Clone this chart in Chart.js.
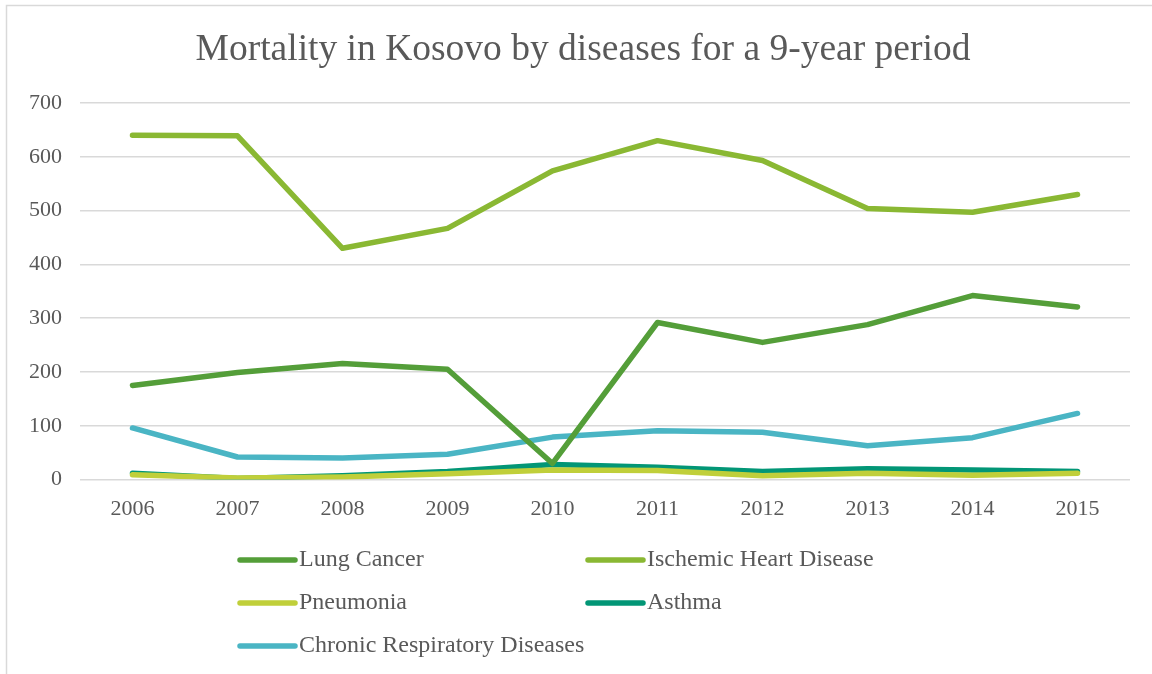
<!DOCTYPE html>
<html>
<head>
<meta charset="utf-8">
<script src="https://cdn.jsdelivr.net/npm/chart.js@4/dist/chart.umd.min.js"></script>
<style>
  html, body { margin: 0; padding: 0; background: #ffffff; }
  #wrap { position: relative; width: 1152px; height: 674px; }
</style>
</head>
<body>
<div id="wrap"><canvas id="chart" width="1152" height="674"></canvas></div>
<script>
// Years on the horizontal axis
const years = ['2006', '2007', '2008', '2009', '2010', '2011', '2012', '2013', '2014', '2015'];

// Deaths per year for each disease
const lungCancer = [175, 199, 216, 205, 30, 292, 255, 288, 342, 321];
const ischemicHeart = [640, 639, 430, 467, 574, 630, 593, 504, 497, 530];
const pneumonia = [9, 3, 5, 11, 18, 17, 7, 12, 8, 12];
const asthma = [12, 2, 7, 15, 28, 23, 15, 20, 18, 15];
const chronicRespiratory = [96, 42, 40, 47, 79, 91, 88, 63, 78, 123];

const seriesNames = ['Lung Cancer', 'Ischemic Heart Disease', 'Pneumonia', 'Asthma', 'Chronic Respiratory Diseases'];
const seriesValues = [lungCancer, ischemicHeart, pneumonia, asthma, chronicRespiratory];
const seriesColors = ['#549E39', '#8AB833', '#C0CF3A', '#029676', '#4AB5C4'];

const FONT = '"Liberation Serif", "Times New Roman", serif';
const TEXT = '#595959';

// Outer frame of the chart (left and top edges)
const framePlugin = {
  id: 'frame',
  beforeDraw(chart) {
    const ctx = chart.ctx;
    ctx.save();
    ctx.fillStyle = '#ffffff';
    ctx.fillRect(0, 0, chart.width, chart.height);
    ctx.strokeStyle = '#d9d9d9';
    ctx.lineWidth = 1.5;
    ctx.beginPath();
    ctx.moveTo(6.5, chart.height + 2);
    ctx.lineTo(6.5, 5.5);
    ctx.lineTo(chart.width + 2, 5.5);
    ctx.stroke();
    ctx.restore();
  }
};

// Two-column legend below the axis
const gridLegendPlugin = {
  id: 'gridLegend',
  afterDraw(chart, args, opts) {
    const ctx = chart.ctx;
    ctx.save();
    ctx.font = opts.font;
    ctx.textBaseline = 'middle';
    ctx.textAlign = 'left';
    chart.data.datasets.forEach((ds, i) => {
      const col = i % 2;
      const row = Math.floor(i / 2);
      const x = opts.columns[col];
      const y = opts.top + row * opts.rowGap;
      ctx.strokeStyle = ds.borderColor;
      ctx.lineWidth = 5.5;
      ctx.lineCap = 'round';
      ctx.beginPath();
      ctx.moveTo(x, y);
      ctx.lineTo(x + opts.swatch, y);
      ctx.stroke();
      ctx.fillStyle = TEXT;
      ctx.fillText(ds.label, x + opts.swatch + 4, y);
    });
    ctx.restore();
  }
};

new Chart(document.getElementById('chart'), {
  type: 'line',
  data: {
    labels: years,
    datasets: seriesNames.map((name, i) => ({
      label: name,
      data: seriesValues[i],
      yAxisID: 'y',
      borderColor: seriesColors[i],
      backgroundColor: seriesColors[i],
      borderWidth: 5.5,
      pointRadius: 0,
      pointHoverRadius: 0,
      tension: 0,
      borderCapStyle: 'round',
      borderJoinStyle: 'round',
      fill: false
    }))
  },
  plugins: [framePlugin, gridLegendPlugin],
  options: {
    responsive: false,
    animation: false,
    layout: { padding: { left: 14, right: 0, top: 0, bottom: 136 } },
    plugins: {
      legend: { display: false },
      tooltip: { enabled: false },
      title: {
        display: true,
        text: 'Mortality in Kosovo by diseases for a 9-year period',
        color: TEXT,
        font: { family: FONT, size: 37.5, weight: 'normal' },
        padding: { top: 28, bottom: 30 }
      },
      gridLegend: {
        font: '24px ' + FONT,
        columns: [240, 588],
        swatch: 55,
        top: 560,
        rowGap: 43
      }
    },
    scales: {
      x: {
        offset: true,
        grid: { display: false, drawTicks: false },
        border: { display: false },
        ticks: {
          color: TEXT,
          font: { family: FONT, size: 22 },
          padding: 16,
          maxRotation: 0
        }
      },
      y: {
        min: 0,
        max: 700,
        grid: { color: '#d9d9d9', lineWidth: 1.5, drawTicks: false },
        border: { display: false },
        ticks: {
          stepSize: 100,
          color: TEXT,
          font: { family: FONT, size: 22 },
          padding: 18
        },
        afterFit(scale) { scale.width = 66; }
      },
      // empty right-hand margin beside the plot area
      yRight: {
        position: 'right',
        display: true,
        min: 0,
        max: 700,
        grid: { display: false, drawTicks: false },
        border: { display: false },
        ticks: { display: false },
        afterFit(scale) { scale.width = 22; }
      }
    }
  }
});
</script>
</body>
</html>
